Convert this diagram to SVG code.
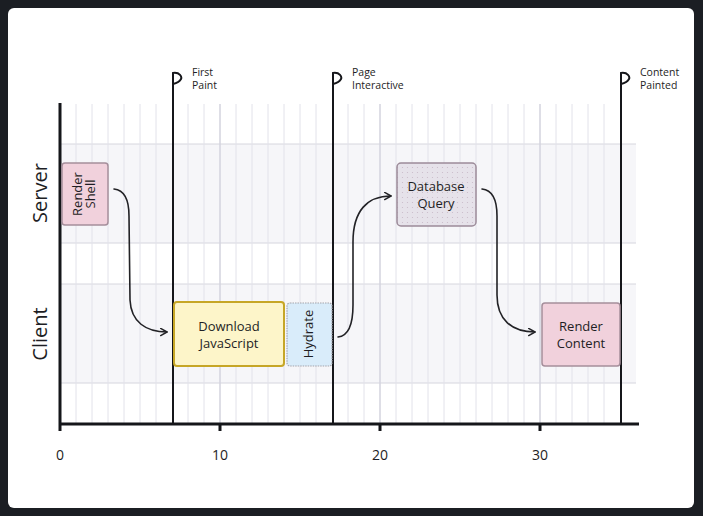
<svg xmlns="http://www.w3.org/2000/svg" width="703" height="516" viewBox="0 0 703 516">
<style>
text{font-family:"Open Sans","Liberation Sans",sans-serif;fill:#1e1e24}
.grid{stroke:#e2e2ea;stroke-width:1}
.grid10{stroke:#d4d4de;stroke-width:1.5}
.band{fill:#f6f6f9}
.bandline{stroke:#d6d6de;stroke-width:1}
.ms{stroke:#15161a;stroke-width:2;fill:none}
.axis{stroke:#15161a;stroke-width:3;fill:none}
.msl{font-size:10.5px}
.node{font-size:13px}
.lane{font-size:20px}
.tick{font-size:14px}
.conn{fill:none;stroke:#222226;stroke-width:1.6;stroke-linecap:round}
</style>
<defs>
<marker id="arr" viewBox="0 0 10 10" refX="9" refY="5" markerWidth="9" markerHeight="9" markerUnits="userSpaceOnUse" orient="auto">
<path d="M2,1 L9,5 L2,9" fill="none" stroke="#222226" stroke-width="1.6" stroke-linecap="round" stroke-linejoin="round"/>
</marker>
<pattern id="dots" width="5" height="5" patternUnits="userSpaceOnUse">
<rect width="5" height="5" fill="#e6e2ea"/>
<circle cx="2.5" cy="2.5" r="0.6" fill="#c9b9c8"/>
</pattern>
</defs>
<rect width="703" height="516" fill="#1b1e23"/>
<rect x="8" y="8" width="686" height="500" rx="6" fill="#ffffff"/>
<g id="bands">
<rect class="band" x="60" y="144" width="576" height="99"/>
<rect class="band" x="60" y="284" width="576" height="99"/>
<line class="bandline" x1="60" y1="144" x2="636" y2="144"/>
<line class="bandline" x1="60" y1="243" x2="636" y2="243"/>
<line class="bandline" x1="60" y1="284" x2="636" y2="284"/>
<line class="bandline" x1="60" y1="383" x2="636" y2="383"/>
</g>
<g id="grid">
<path class="grid" d="M76,104V424M92,104V424M108,104V424M124,104V424M140,104V424M156,104V424M188,104V424M204,104V424M236,104V424M252,104V424M268,104V424M284,104V424M300,104V424M316,104V424M348,104V424M364,104V424M396,104V424M412,104V424M428,104V424M444,104V424M460,104V424M476,104V424M492,104V424M508,104V424M524,104V424M556,104V424M572,104V424M588,104V424M604,104V424"/>
<path class="grid10" d="M220,104V424M380,104V424M540,104V424"/>
</g>
<g id="axes">
<line class="axis" x1="60" y1="103" x2="60" y2="431"/>
<line class="axis" x1="59" y1="424" x2="639" y2="424"/>
<path class="axis" d="M220,424V431M380,424V431M540,424V431"/>
<text class="tick" x="60" y="460" text-anchor="middle">0</text>
<text class="tick" x="220" y="460" text-anchor="middle">10</text>
<text class="tick" x="380" y="460" text-anchor="middle">20</text>
<text class="tick" x="540" y="460" text-anchor="middle">30</text>
<text class="lane" transform="translate(47,193) rotate(-90)" text-anchor="middle">Server</text>
<text class="lane" transform="translate(47,334) rotate(-90)" text-anchor="middle">Client</text>
</g>
<g id="milestone-first-paint">
<path class="ms" d="M173,424V73C180,72 182,77 181,79C180,81 177,83 173,84"/>
<text class="msl" x="192" y="76">First</text>
<text class="msl" x="192" y="88.5">Paint</text>
</g>
<g id="milestone-page-interactive">
<path class="ms" d="M333,424V73C340,72 342,77 341,79C340,81 337,83 333,84"/>
<text class="msl" x="352" y="76">Page</text>
<text class="msl" x="352" y="88.5">Interactive</text>
</g>
<g id="milestone-content-painted">
<path class="ms" d="M621,424V73C628,72 630,77 629,79C628,81 625,83 621,84"/>
<text class="msl" x="640" y="76">Content</text>
<text class="msl" x="640" y="88.5">Painted</text>
</g>
<g id="node-render-shell">
<rect x="62" y="163" width="46" height="62" rx="3" fill="#f1d1dc" stroke="#a58e9b" stroke-width="1.5"/>
<text class="node" font-size="11" transform="translate(85,194) rotate(-90)" text-anchor="middle"><tspan x="0" y="-3">Render</tspan><tspan x="0" y="10">Shell</tspan></text>
</g>
<g id="node-download-js">
<rect x="174" y="302" width="110" height="64" rx="3" fill="#fdf5c9" stroke="#c6a626" stroke-width="2"/>
<text class="node" x="229" y="331" text-anchor="middle">Download</text>
<text class="node" x="229" y="348" text-anchor="middle">JavaScript</text>
</g>
<g id="node-hydrate">
<rect x="287" y="303" width="45" height="63" rx="3" fill="#d9ecfa" stroke="#a4a4ac" stroke-width="1.2" stroke-dasharray="1.5,1"/>
<text class="node" font-size="11" transform="translate(313,334) rotate(-90)" text-anchor="middle">Hydrate</text>
</g>
<g id="node-database-query">
<rect x="397" y="163" width="79" height="63" rx="4" fill="url(#dots)" stroke="#9c8b99" stroke-width="1.5"/>
<text class="node" x="436" y="191" text-anchor="middle">Database</text>
<text class="node" x="436" y="208" text-anchor="middle">Query</text>
</g>
<g id="node-render-content">
<rect x="542" y="303" width="78" height="63" rx="3" fill="#f1d1dc" stroke="#a58e9b" stroke-width="1.5"/>
<text class="node" x="581" y="331" text-anchor="middle">Render</text>
<text class="node" x="581" y="348" text-anchor="middle">Content</text>
</g>
<g id="connectors">
<path class="conn" marker-end="url(#arr)" d="M114,189C124,190 129,198 129,216L130,300C131,322 146,332 167,332"/>
<path class="conn" marker-end="url(#arr)" d="M338,337C348,336 353,326 353,305L353,242C353,211 367,196 391,196"/>
<path class="conn" marker-end="url(#arr)" d="M482,189C492,190 497,198 497,216L497,295C497,320 512,332 535,332"/>
</g>
</svg>
